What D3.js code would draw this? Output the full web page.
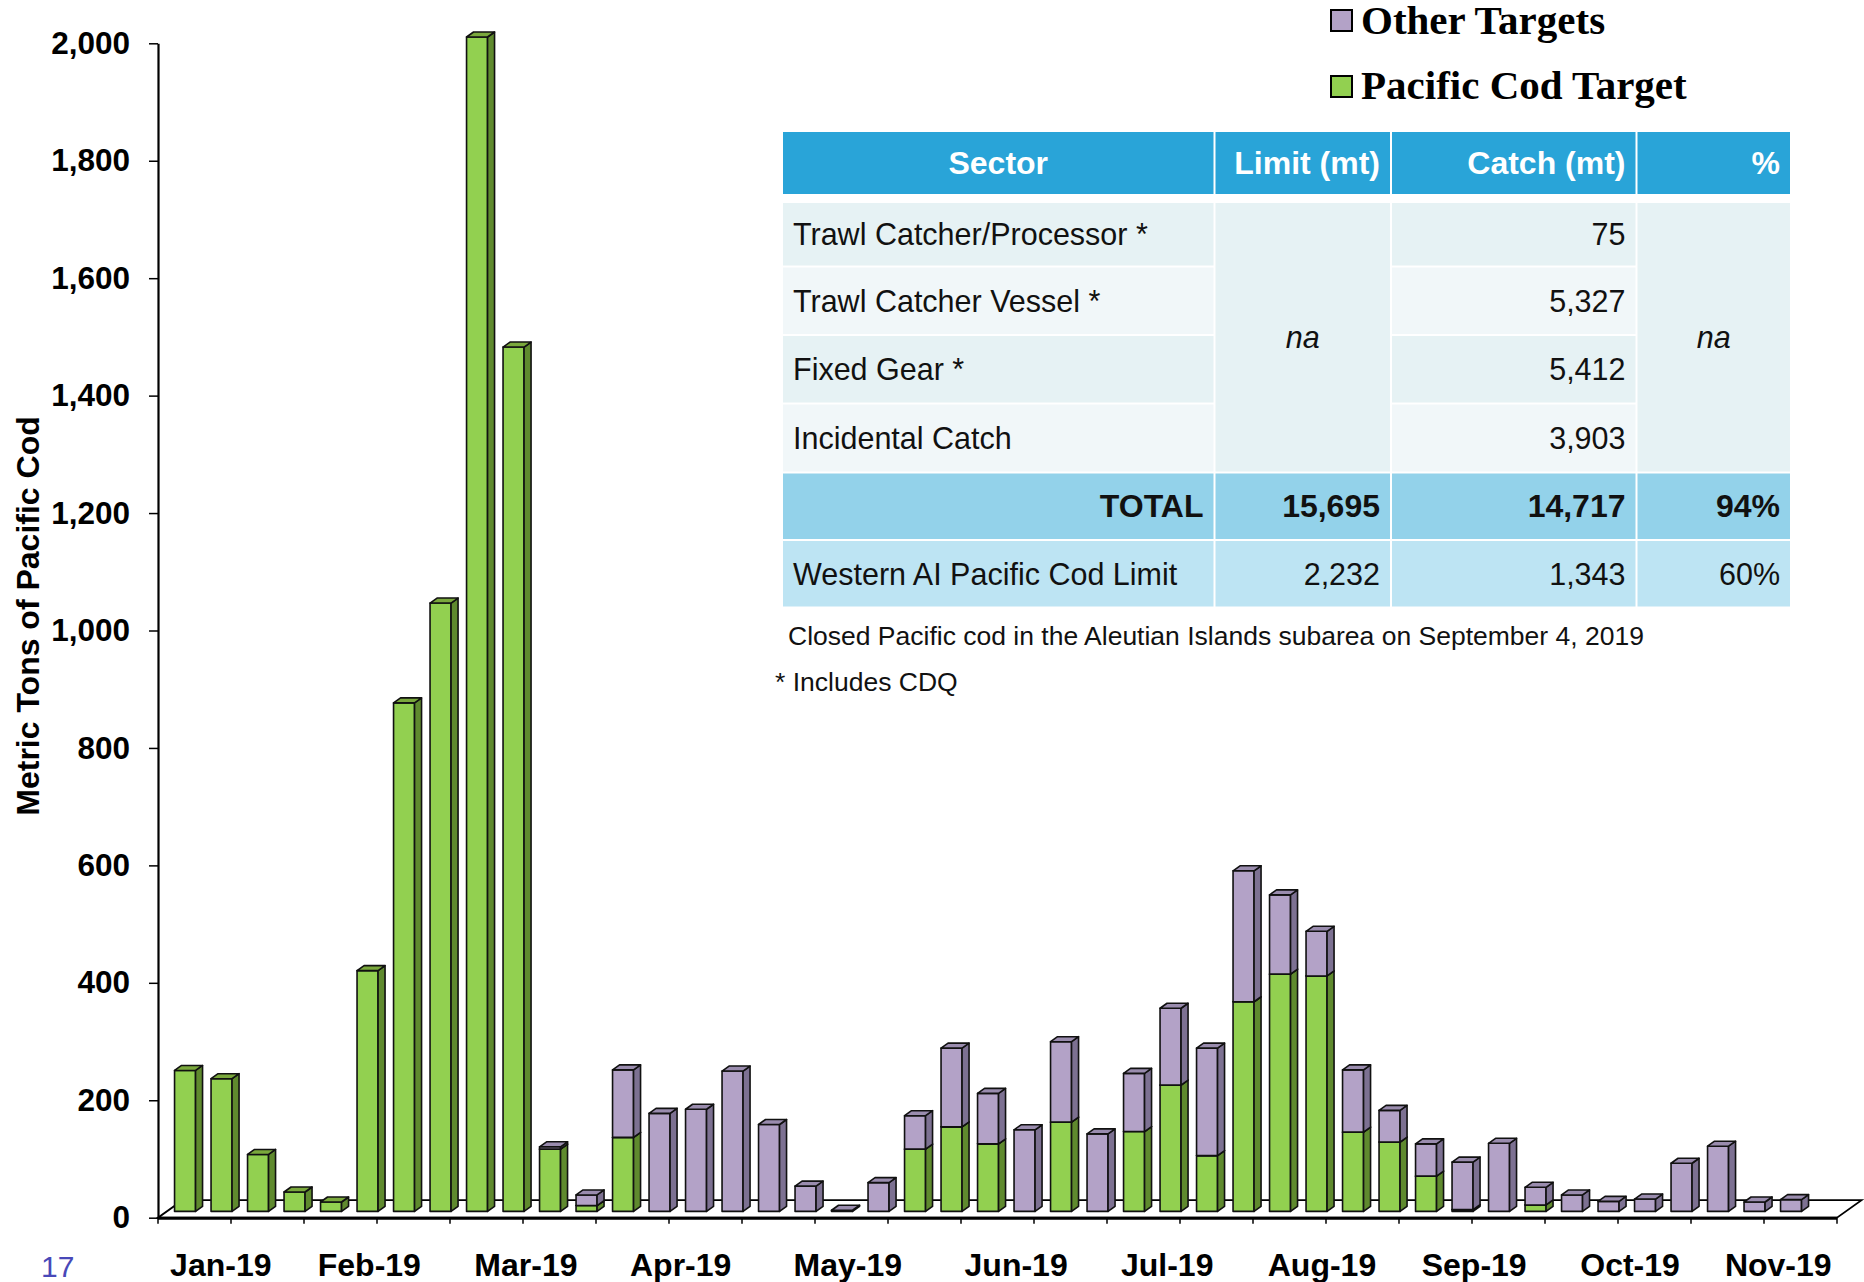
<!DOCTYPE html>
<html>
<head>
<meta charset="utf-8">
<script src="https://cdn.jsdelivr.net/npm/d3@7"></script>
<style>
  body { margin: 0; background: #fff; }
</style>
</head>
<body>
<svg id="chart" width="1864" height="1282" font-family="Liberation Sans, Arial, sans-serif"></svg>
<script>
// weekly catch, Aleutian Islands Pacific cod, 2019 (week ending dates)
var weeks = ["1/5","1/12","1/19","1/26","2/2","2/9","2/16","2/23","3/2","3/9","3/16","3/23","3/30",
  "4/6","4/13","4/20","4/27","5/4","5/11","5/18","5/25","6/1","6/8","6/15","6/22","6/29",
  "7/6","7/13","7/20","7/27","8/3","8/10","8/17","8/24","8/31","9/7","9/14","9/21","9/28",
  "10/5","10/12","10/19","10/26","11/2","11/9","11/16"];
var codTarget = [240,226,97,33,16,410,866,1036,2000,1472,106,10,126,
  0,0,0,0,0,0,0,106,144,115,0,152,0,
  136,215,95,357,404,401,135,118,60,3,0,11,0,
  0,0,0,0,0,0,null];
var otherTargets = [0,0,0,0,0,0,0,0,0,0,4,18,115,
  167,174,239,148,43,2,49,57,134,86,139,137,132,
  99,131,183,223,135,76,106,54,55,81,116,30,28,
  17,21,82,111,16,20,null];
var yTicks = [0,200,400,600,800,1000,1200,1400,1600,1800,2000];
var months = ["Jan-19","Feb-19","Mar-19","Apr-19","May-19","Jun-19","Jul-19","Aug-19","Sep-19","Oct-19","Nov-19"];
var monthAt = [1.72,5.79,10.08,14.32,18.9,23.51,27.65,31.89,36.06,40.33,44.39]; // in weeks from axis start
var seriesNames = ["Other Targets","Pacific Cod Target"];

var tableHead = ["Sector","Limit (mt)","Catch (mt)","%"];
var sectors = ["Trawl Catcher/Processor *","Trawl Catcher Vessel *","Fixed Gear *","Incidental Catch"];
var sectorCatch = ["75","5,327","5,412","3,903"];
var totalRow = ["TOTAL","15,695","14,717","94%"];
var westernRow = ["Western AI Pacific Cod Limit","2,232","1,343","60%"];
var notes = ["Closed Pacific cod in the Aleutian Islands subarea on September 4, 2019","* Includes CDQ"];

var svg = d3.select("#chart");

var green = {front: "#92d050", side: "#5f8a2e", top: "#7aa83c"};
var purple = {front: "#b3a2c7", side: "#7d7192", top: "#9a8cae"};

// 3d look: floor depth, column depth and how far back the columns stand
var floorDx = 24.5, floorDy = 17.5;
var barDx = 7, barDy = 5;
var inDx = 8.8, inDy = 6.3;

var x = d3.scaleBand().domain(weeks).range([158, 1837]).paddingInner(0.4245).paddingOuter(0.21225);
var y = d3.scaleLinear().domain([0, 2000]).range([1217.7, 43.3]);
var slot0 = x.range()[0];

// floor
var y0 = y(0), r0 = x.range()[0], r1 = x.range()[1];
svg.append("path")
  .attr("d", "M" + r0 + "," + y0 + "L" + r1 + "," + y0 + "L" + (r1 + floorDx) + "," + (y0 - floorDy) +
    "L" + (r0 + floorDx) + "," + (y0 - floorDy) + "Z")
  .attr("fill", "#fff").attr("stroke", "#000").attr("stroke-width", 1.8);
svg.append("line").attr("x1", r0).attr("x2", r1).attr("y1", y0 + 0.5).attr("y2", y0 + 0.5)
  .attr("stroke", "#000").attr("stroke-width", 3);

// x ticks every second week
svg.selectAll(".xtick")
  .data(weeks.filter(function(d, i) { return i % 2 == 0; }).concat(["end"]))
  .enter().append("line")
  .attr("class", "xtick")
  .attr("x1", function(d) { return d == "end" ? r1 : x(d) - x.step() * x.paddingInner() / 2; })
  .attr("x2", function(d) { return d == "end" ? r1 : x(d) - x.step() * x.paddingInner() / 2; })
  .attr("y1", y0).attr("y2", y0 + 6)
  .attr("stroke", "#000").attr("stroke-width", 1.5);

// stacked columns
var rows = weeks.map(function(w, i) { return {week: w, cod: codTarget[i], other: otherTargets[i]}; })
  .filter(function(d) { return d.cod != null; });
var stack = d3.stack().keys(["cod", "other"])(rows);

function box(g, x0, w, yb, yt, c) {
  g.append("rect").attr("x", x0).attr("y", yt).attr("width", w).attr("height", Math.max(0, yb - yt))
    .attr("fill", c.front);
  g.append("path")
    .attr("d", "M" + (x0 + w) + "," + yb + "L" + (x0 + w) + "," + yt + "L" + (x0 + w + barDx) + "," + (yt - barDy) +
      "L" + (x0 + w + barDx) + "," + (yb - barDy) + "Z")
    .attr("fill", c.side);
  g.append("path")
    .attr("d", "M" + x0 + "," + yt + "L" + (x0 + barDx) + "," + (yt - barDy) + "L" + (x0 + w + barDx) + "," + (yt - barDy) +
      "L" + (x0 + w) + "," + yt + "Z")
    .attr("fill", c.top);
}

var bars = svg.append("g").attr("stroke", "#111").attr("stroke-width", 1.6).attr("stroke-linejoin", "round");
rows.forEach(function(r, i) {
  var g = bars.append("g");
  var x0 = x(r.week) + inDx;
  [0, 1].forEach(function(k) {
    var seg = stack[k][i];
    if (seg[1] - seg[0] <= 0) return;
    box(g, x0, x.bandwidth(), y(seg[0]) - inDy, y(seg[1]) - inDy, k == 0 ? green : purple);
  });
});

// y axis
var yAxis = d3.axisLeft(y).tickValues(yTicks).tickFormat(d3.format(",")).tickSize(9).tickSizeOuter(0).tickPadding(19);
var ya = svg.append("g").attr("transform", "translate(158,0)").call(yAxis);
ya.select(".domain").attr("stroke", "#000").attr("stroke-width", 2.2);
ya.selectAll(".tick line").attr("stroke", "#000").attr("stroke-width", 1.5);
ya.selectAll(".tick text").attr("font-family", "Liberation Sans, Arial, sans-serif")
  .attr("font-size", 31.5).attr("font-weight", "bold").attr("fill", "#000");

svg.append("text")
  .attr("transform", "translate(39,616) rotate(-90)")
  .attr("text-anchor", "middle")
  .attr("font-size", 32).attr("font-weight", "bold")
  .text("Metric Tons of Pacific Cod");

// month labels
svg.selectAll(".month").data(months).enter().append("text")
  .attr("class", "month")
  .attr("x", function(d, i) { return slot0 + monthAt[i] * x.step(); })
  .attr("y", 1276)
  .attr("text-anchor", "middle")
  .attr("font-size", 32).attr("font-weight", "bold")
  .text(function(d) { return d; });

// slide number
svg.append("text").attr("x", 41).attr("y", 1277).attr("font-size", 30).attr("fill", "#4848b8").text("17");

// legend
var leg = svg.append("g");
seriesNames.forEach(function(name, i) {
  leg.append("rect").attr("x", 1331).attr("y", 10 + i * 66).attr("width", 21).attr("height", 21)
    .attr("fill", i == 0 ? purple.front : green.front).attr("stroke", "#000").attr("stroke-width", 2);
  leg.append("text").attr("x", 1361).attr("y", 34 + i * 65)
    .attr("font-family", "Liberation Serif, Times New Roman, serif")
    .attr("font-size", 41).attr("font-weight", "bold")
    .text(name);
});

// table
var colX = [782, 1214.5, 1391, 1636.5, 1791];
var headY = [131, 195];
var rowY = [202, 266.5, 335, 403.5, 472.5, 540, 607.5];
var tbl = svg.append("g");
var pad = 11;

function cell(c0, c1, yA, yB, fill) {
  tbl.append("rect").attr("x", colX[c0] + 1).attr("y", yA + 1)
    .attr("width", colX[c1] - colX[c0] - 2).attr("height", yB - yA - 2).attr("fill", fill);
}
function label(txt, c, yA, yB, align, opts) {
  var xx = align == "start" ? colX[c] + pad : align == "end" ? colX[c + 1] - pad : (colX[c] + colX[c + 1]) / 2;
  var t = tbl.append("text").attr("x", xx).attr("y", (yA + yB) / 2 + 11)
    .attr("text-anchor", align).attr("font-size", opts.bold ? 32 : 30.5).attr("fill", opts.fill || "#111")
    .text(txt);
  if (opts.bold) t.attr("font-weight", "bold");
  if (opts.italic) t.attr("font-style", "italic");
}

tableHead.forEach(function(h, c) {
  cell(c, c + 1, headY[0], headY[1], "#29a4d8");
  label(h, c, headY[0], headY[1], c == 0 ? "middle" : "end", {bold: true, fill: "#fff"});
});
sectors.forEach(function(s, r) {
  var fill = r % 2 == 0 ? "#e6f2f4" : "#f1f7f9";
  cell(0, 1, rowY[r], rowY[r + 1], fill);
  cell(2, 3, rowY[r], rowY[r + 1], fill);
  label(s, 0, rowY[r], rowY[r + 1], "start", {});
  label(sectorCatch[r], 2, rowY[r], rowY[r + 1], "end", {});
});
[1, 3].forEach(function(c) {
  cell(c, c + 1, rowY[0], rowY[4], "#e6f2f4");
  label("na", c, rowY[0], rowY[4], "middle", {italic: true});
});
totalRow.forEach(function(v, c) {
  cell(c, c + 1, rowY[4], rowY[5], "#93d2ea");
  label(v, c, rowY[4], rowY[5], "end", {bold: true});
});
westernRow.forEach(function(v, c) {
  cell(c, c + 1, rowY[5], rowY[6], "#bde4f3");
  label(v, c, rowY[5], rowY[6], c == 0 ? "start" : "end", {});
});

svg.append("text").attr("x", 788).attr("y", 645).attr("font-size", 26.5).attr("fill", "#111").text(notes[0]);
svg.append("text").attr("x", 775).attr("y", 691).attr("font-size", 26.5).attr("fill", "#111").text(notes[1]);
</script>
</body>
</html>
